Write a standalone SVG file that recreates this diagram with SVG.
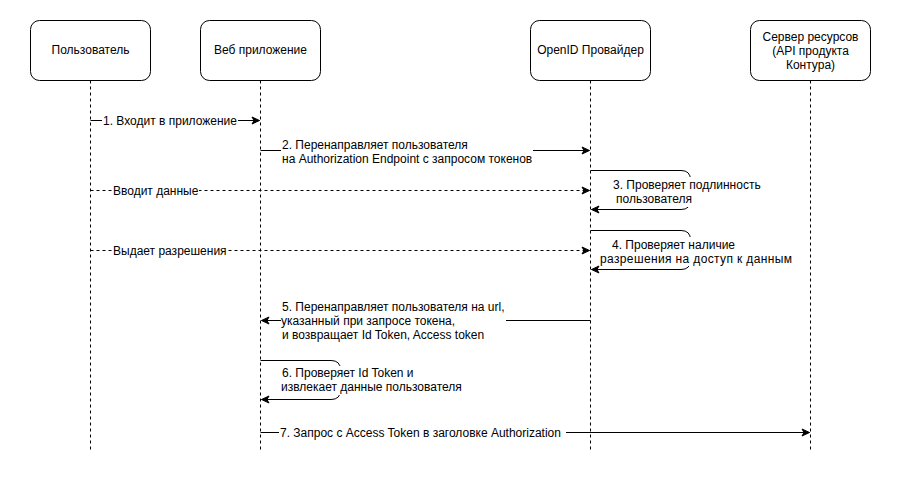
<svg xmlns="http://www.w3.org/2000/svg" width="912" height="482" viewBox="0 0 912 482">
<style>
  .box { fill: #ffffff; stroke: #000000; stroke-width: 1; }
  .life { stroke: #000000; stroke-width: 1; stroke-dasharray: 3 3; fill: none; }
  .msg { stroke: #000000; stroke-width: 1; fill: none; }
  .dmsg { stroke: #000000; stroke-width: 1; fill: none; stroke-dasharray: 3 3; }
  .lbg { fill: #ffffff; stroke: none; }
  .ah { fill: #000000; stroke: #000000; stroke-width: 1; stroke-dasharray: none; }
  text { font-family: "Liberation Sans", Arial, sans-serif; font-size: 12px; fill: #000000; }
  .c { text-anchor: middle; }
</style>
<defs>
  <marker id="arrow" markerUnits="userSpaceOnUse" markerWidth="10" markerHeight="9" viewBox="0 0 10 9" refX="9" refY="4.5" orient="auto">
    <path class="ah" d="M1.5,1 L9,4.5 L1.5,8 L3.5,4.5 Z"/>
  </marker>
</defs>
<rect width="912" height="482" fill="#ffffff"/>

<g id="lifelines">
  <line class="life" x1="90.5" y1="80.5" x2="90.5" y2="451"/>
  <line class="life" x1="260.5" y1="80.5" x2="260.5" y2="451"/>
  <line class="life" x1="590.5" y1="80.5" x2="590.5" y2="451"/>
  <line class="life" x1="810.5" y1="80.5" x2="810.5" y2="451"/>
</g>

<g id="node-user">
  <rect class="box" x="30.5" y="20.5" width="120" height="60" rx="9" ry="9"/>
  <text class="c" x="90.5" y="54">Пользователь</text>
</g>
<g id="node-webapp">
  <rect class="box" x="200.5" y="20.5" width="120" height="60" rx="9" ry="9"/>
  <text class="c" x="260.5" y="54">Веб приложение</text>
</g>
<g id="node-openid">
  <rect class="box" x="530.5" y="20.5" width="120" height="60" rx="9" ry="9"/>
  <text class="c" x="590.5" y="54">OpenID Провайдер</text>
</g>
<g id="node-server">
  <rect class="box" x="750.5" y="20.5" width="120" height="60" rx="9" ry="9"/>
  <text class="c" x="810.5" y="41">Сервер ресурсов</text>
  <text class="c" x="810.5" y="55">(API продукта</text>
  <text class="c" x="810.5" y="69">Контура)</text>
</g>

<g id="connectors">
  <!-- 1 -->
  <path class="msg" d="M90.5,120.5 H259.5" marker-end="url(#arrow)"/>
  <rect class="lbg" x="102" y="113" width="136" height="15"/>
  <text x="103" y="124.5">1. Входит в приложение</text>

  <!-- 2 -->
  <path class="msg" d="M260.5,150.5 H589.5" marker-end="url(#arrow)"/>
  <rect class="lbg" x="281" y="139" width="252" height="28"/>
  <text x="282" y="149">2. Перенаправляет пользователя</text>
  <text x="282" y="163">на Authorization Endpoint с запросом токенов</text>

  <!-- 3 self -->
  <path class="msg" d="M590.5,170.5 H681 Q690.5,170.5 690.5,180 V200 Q690.5,209.5 681,209.5 H591.5" marker-end="url(#arrow)"/>
  <rect class="lbg" x="611" y="177" width="150" height="30"/>
  <text x="613" y="189">3. Проверяет подлинность</text>
  <text x="616" y="203">пользователя</text>

  <!-- Вводит данные -->
  <path class="dmsg" d="M90.5,190.5 H589.5" marker-end="url(#arrow)"/>
  <rect class="lbg" x="112" y="183" width="87" height="15"/>
  <text x="113" y="194.5">Вводит данные</text>

  <!-- 4 self -->
  <path class="msg" d="M590.5,230.5 H681 Q690.5,230.5 690.5,240 V260 Q690.5,269.5 681,269.5 H591.5" marker-end="url(#arrow)"/>
  <rect class="lbg" x="599" y="237" width="195" height="29"/>
  <text x="612" y="249">4. Проверяет наличие</text>
  <text x="600" y="263" textLength="192" lengthAdjust="spacing">разрешения на доступ к данным</text>

  <!-- Выдает разрешения -->
  <path class="dmsg" d="M90.5,250.5 H589.5" marker-end="url(#arrow)"/>
  <rect class="lbg" x="112" y="243" width="115" height="15"/>
  <text x="113" y="254.5">Выдает разрешения</text>

  <!-- 5 -->
  <path class="msg" d="M590.5,320.5 H261.5" marker-end="url(#arrow)"/>
  <rect class="lbg" x="281" y="299" width="225" height="43"/>
  <text x="282" y="311">5. Перенаправляет пользователя на url,</text>
  <text x="281" y="325">указанный при запросе токена,</text>
  <text x="282" y="339">и возвращает Id Token, Access token</text>

  <!-- 6 self -->
  <path class="msg" d="M260.5,360.5 H331 Q340.5,360.5 340.5,370 V390 Q340.5,399.5 331,399.5 H261.5" marker-end="url(#arrow)"/>
  <rect class="lbg" x="280" y="366" width="186" height="29"/>
  <text x="282" y="377">6. Проверяет Id Token и</text>
  <text x="281" y="391">извлекает данные пользователя</text>

  <!-- 7 -->
  <path class="msg" d="M260.5,432.5 H809.5" marker-end="url(#arrow)"/>
  <rect class="lbg" x="279" y="425" width="287" height="15"/>
  <text x="280" y="436.5">7. Запрос с Access Token в заголовке Authorization</text>
</g>
</svg>
